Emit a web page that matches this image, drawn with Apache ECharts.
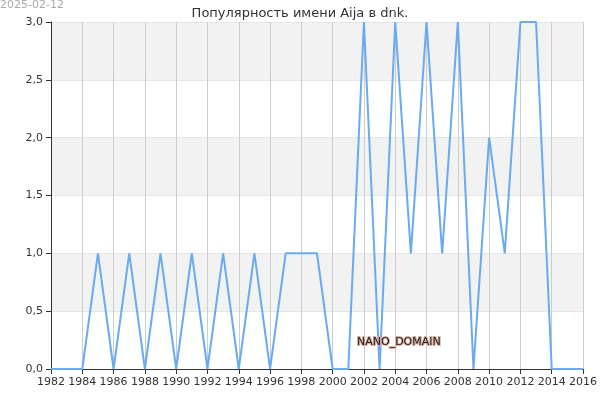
<!DOCTYPE html>
<html><head><meta charset="utf-8">
<script src="https://cdn.jsdelivr.net/npm/echarts@6/dist/echarts.min.js"></script>
<style>html,body{margin:0;padding:0}#c{width:600px;height:400px}</style>
</head><body><div id="c"></div>
<script>
// годы и значения
const years = [1982,1983,1984,1985,1986,1987,1988,1989,1990,1991,1992,1993,1994,1995,1996,1997,1998,1999,2000,2001,2002,2003,2004,2005,2006,2007,2008,2009,2010,2011,2012,2013,2014,2015,2016]
const counts = [0,0,0,1,0,1,0,1,0,1,0,1,0,1,0,1,1,1,0,0,3,0,3,1,3,1,3,0,2,1,3,3,0,0,0]
const titleText = 'Популярность имени Aija в dnk.'
const dateText = '2025-02-12'

const chart = echarts.init(document.getElementById('c'))
chart.setOption({
  animation: false,
  title: {
    text: titleText, left: 'center', top: 2,
    textStyle: { fontFamily: 'DejaVu Sans', fontSize: 13, fontWeight: 'normal', color: '#333' }
  },
  graphic: [
    { type: 'text', x: 0, y: 0, z: 100, style: { text: dateText, fill: '#aaa', fontSize: 11, fontFamily: 'DejaVu Sans' } },
    { type: 'text', x: 357, y: 337, z: 100, style: { text: 'NANO_DOMAIN', fill: '#222', stroke: '#d9b0a0', lineWidth: 2, fontSize: 11, fontFamily: 'DejaVu Sans' } }
  ],
  grid: { left: 51, right: 15, top: 22, bottom: 31 },
  xAxis: {
    type: 'value', min: 1982, max: 2016, interval: 2,
    axisLine: { lineStyle: { color: '#333' } },
    axisTick: { show: true, lineStyle: { color: '#333' } },
    axisLabel: { color: '#333', fontFamily: 'DejaVu Sans', fontSize: 11, showMinLabel: true, showMaxLabel: true, formatter: v => String(v) },
    splitLine: { show: true, lineStyle: { color: '#ccc' } },
    splitArea: { show: false }
  },
  yAxis: {
    type: 'value', min: 0, max: 3, interval: 0.5,
    axisLine: { show: true, lineStyle: { color: '#333' } },
    axisTick: { show: true, lineStyle: { color: '#333' } },
    axisLabel: { color: '#333', fontFamily: 'DejaVu Sans', fontSize: 11, formatter: v => v.toFixed(1).replace('.', ',') },
    splitLine: { show: true, lineStyle: { color: '#e6e6e6' } },
    splitArea: { show: true, areaStyle: { color: ['#fff', '#f2f2f2'] } }
  },
  series: [{
    type: 'line', data: years.map((y, i) => [y, counts[i]]),
    showSymbol: false, lineStyle: { color: '#6aaaf0', width: 2 }
  }]
})
</script></body></html>
